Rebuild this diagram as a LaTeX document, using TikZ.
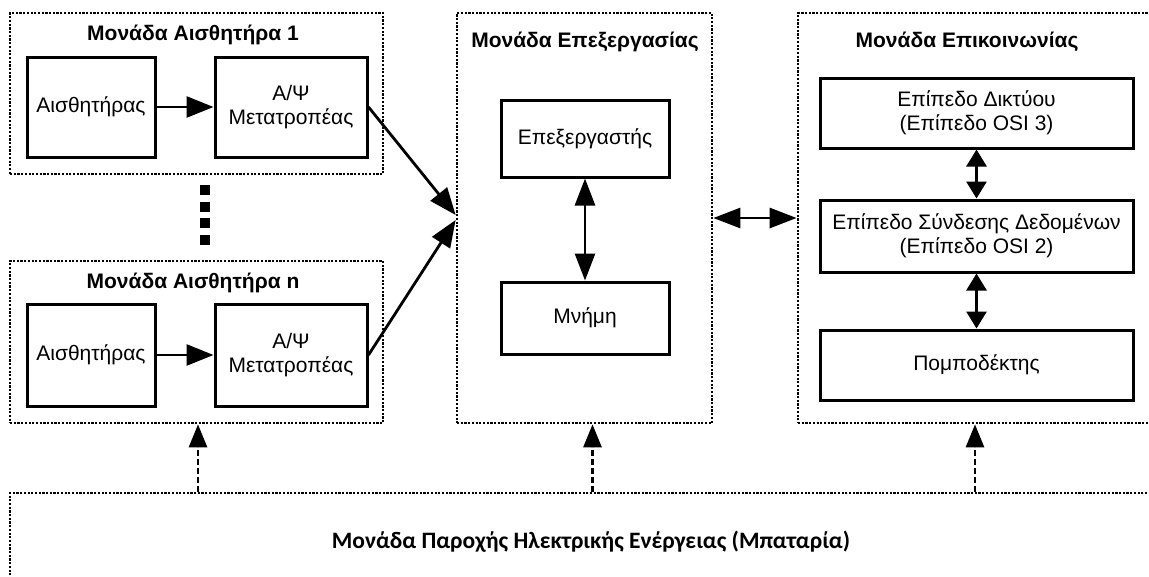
\documentclass[tikz,border=0pt]{standalone}
\usepackage{fontspec}
\setmainfont{Liberation Sans}
\newfontfamily\calibri{Carlito}
\usetikzlibrary{arrows.meta}
\begin{document}
\begin{tikzpicture}[x=1pt,y=-1pt,
  unit/.style={draw, line width=2.7pt, dash pattern=on 2.2pt off 1.5pt, rectangle, inner sep=0pt},
  blk/.style={draw, line width=3pt, rectangle, align=center, inner sep=0pt, font=\fontsize{21}{24}\selectfont},
  ttl/.style={font=\fontsize{21}{24}\selectfont\bfseries, inner sep=0pt},
  arr/.style={line width=2.8pt, -{Triangle[length=27pt,width=21pt]}},
  darr/.style={line width=2.8pt, {Triangle[length=27pt,width=20pt]}-{Triangle[length=27pt,width=20pt]}},
  sdarr/.style={line width=2.8pt, {Triangle[length=17pt,width=20pt]}-{Triangle[length=17pt,width=20pt]}},
  parr/.style={line width=2.8pt, dash pattern=on 6pt off 3pt, -{Triangle[length=23pt,width=18pt]}}
]
\useasboundingbox (0,0) rectangle (1149,576);
\clip (0,0) rectangle (1149,576);
% group frames
\node[unit, minimum width=373pt, minimum height=161pt] (s1) at (196.5,93.5) {};
\node[unit, minimum width=373pt, minimum height=162pt] (sn) at (196.5,342) {};
\node[unit, minimum width=255pt, minimum height=410pt] (proc) at (584.5,218) {};
\node[unit, minimum width=362pt, minimum height=410pt] (comm) at (979,218) {};
\node[unit, minimum width=1162pt, minimum height=97pt, font=\calibri\fontsize{23.5}{27}\selectfont\bfseries] (power) at (591,541.5) {\raisebox{3pt}{Μονάδα Παροχής Ηλεκτρικής Ενέργειας (Μπαταρία)}};
% titles
\node[ttl] (t1) at (193,35) {Μονάδα Αισθητήρα 1};
\node[ttl] (tn) at (193,283) {Μονάδα Αισθητήρα n};
\node[ttl] (tp) at (585,42) {Μονάδα Επεξεργασίας};
\node[ttl] (tc) at (967,42) {Μονάδα Επικοινωνίας};
% sensor blocks
\node[blk, minimum width=128pt, minimum height=100pt] (s1a) at (91,107) {Αισθητήρας};
\node[blk, minimum width=152pt, minimum height=100pt] (s1b) at (291,107) {Α/Ψ\\Μετατροπέας};
\node[blk, minimum width=128pt, minimum height=102pt] (sna) at (91,355) {Αισθητήρας};
\node[blk, minimum width=152pt, minimum height=102pt] (snb) at (291,355) {Α/Ψ\\Μετατροπέας};
% processing blocks
\node[blk, minimum width=168pt, minimum height=77pt] (cpu) at (585,138.5) {Επεξεργαστής};
\node[blk, minimum width=168pt, minimum height=72pt] (mem) at (585,318) {Μνήμη};
% communication blocks
\node[blk, minimum width=313pt, minimum height=70pt] (net) at (976.5,113) {Επίπεδο Δικτύου\\(Επίπεδο OSI 3)};
\node[blk, minimum width=313pt, minimum height=72pt] (dll) at (976.5,236) {Επίπεδο Σύνδεσης Δεδομένων\\(Επίπεδο OSI 2)};
\node[blk, minimum width=313pt, minimum height=70pt] (trx) at (976.5,365) {Πομποδέκτης};
% vertical ellipsis
\draw[line width=10pt, dash pattern=on 10pt off 6.6pt] (205,185) -- (205,247);
% connectors
\draw[arr] (s1a) -- (s1b);
\draw[arr] (sna) -- (snb);
\draw[arr] (s1b.east) -- ([yshift=3pt]proc.west);
\draw[arr] (snb.east) -- ([yshift=-2pt]proc.west);
\draw[darr] (cpu) -- (mem);
\draw[darr] (proc.east) -- (comm.west);
\draw[sdarr] (net) -- (dll);
\draw[sdarr] (dll) -- (trx);
\draw[parr] ([xshift=1.5pt]sn.south |- power.north) -- ([xshift=1.5pt]sn.south);
\draw[parr] ([xshift=8pt]proc.south |- power.north) -- ([xshift=8pt]proc.south);
\draw[parr] ([xshift=-1.5pt]trx.south |- power.north) -- ([xshift=-1.5pt]trx.south |- comm.south);
\end{tikzpicture}
\end{document}
